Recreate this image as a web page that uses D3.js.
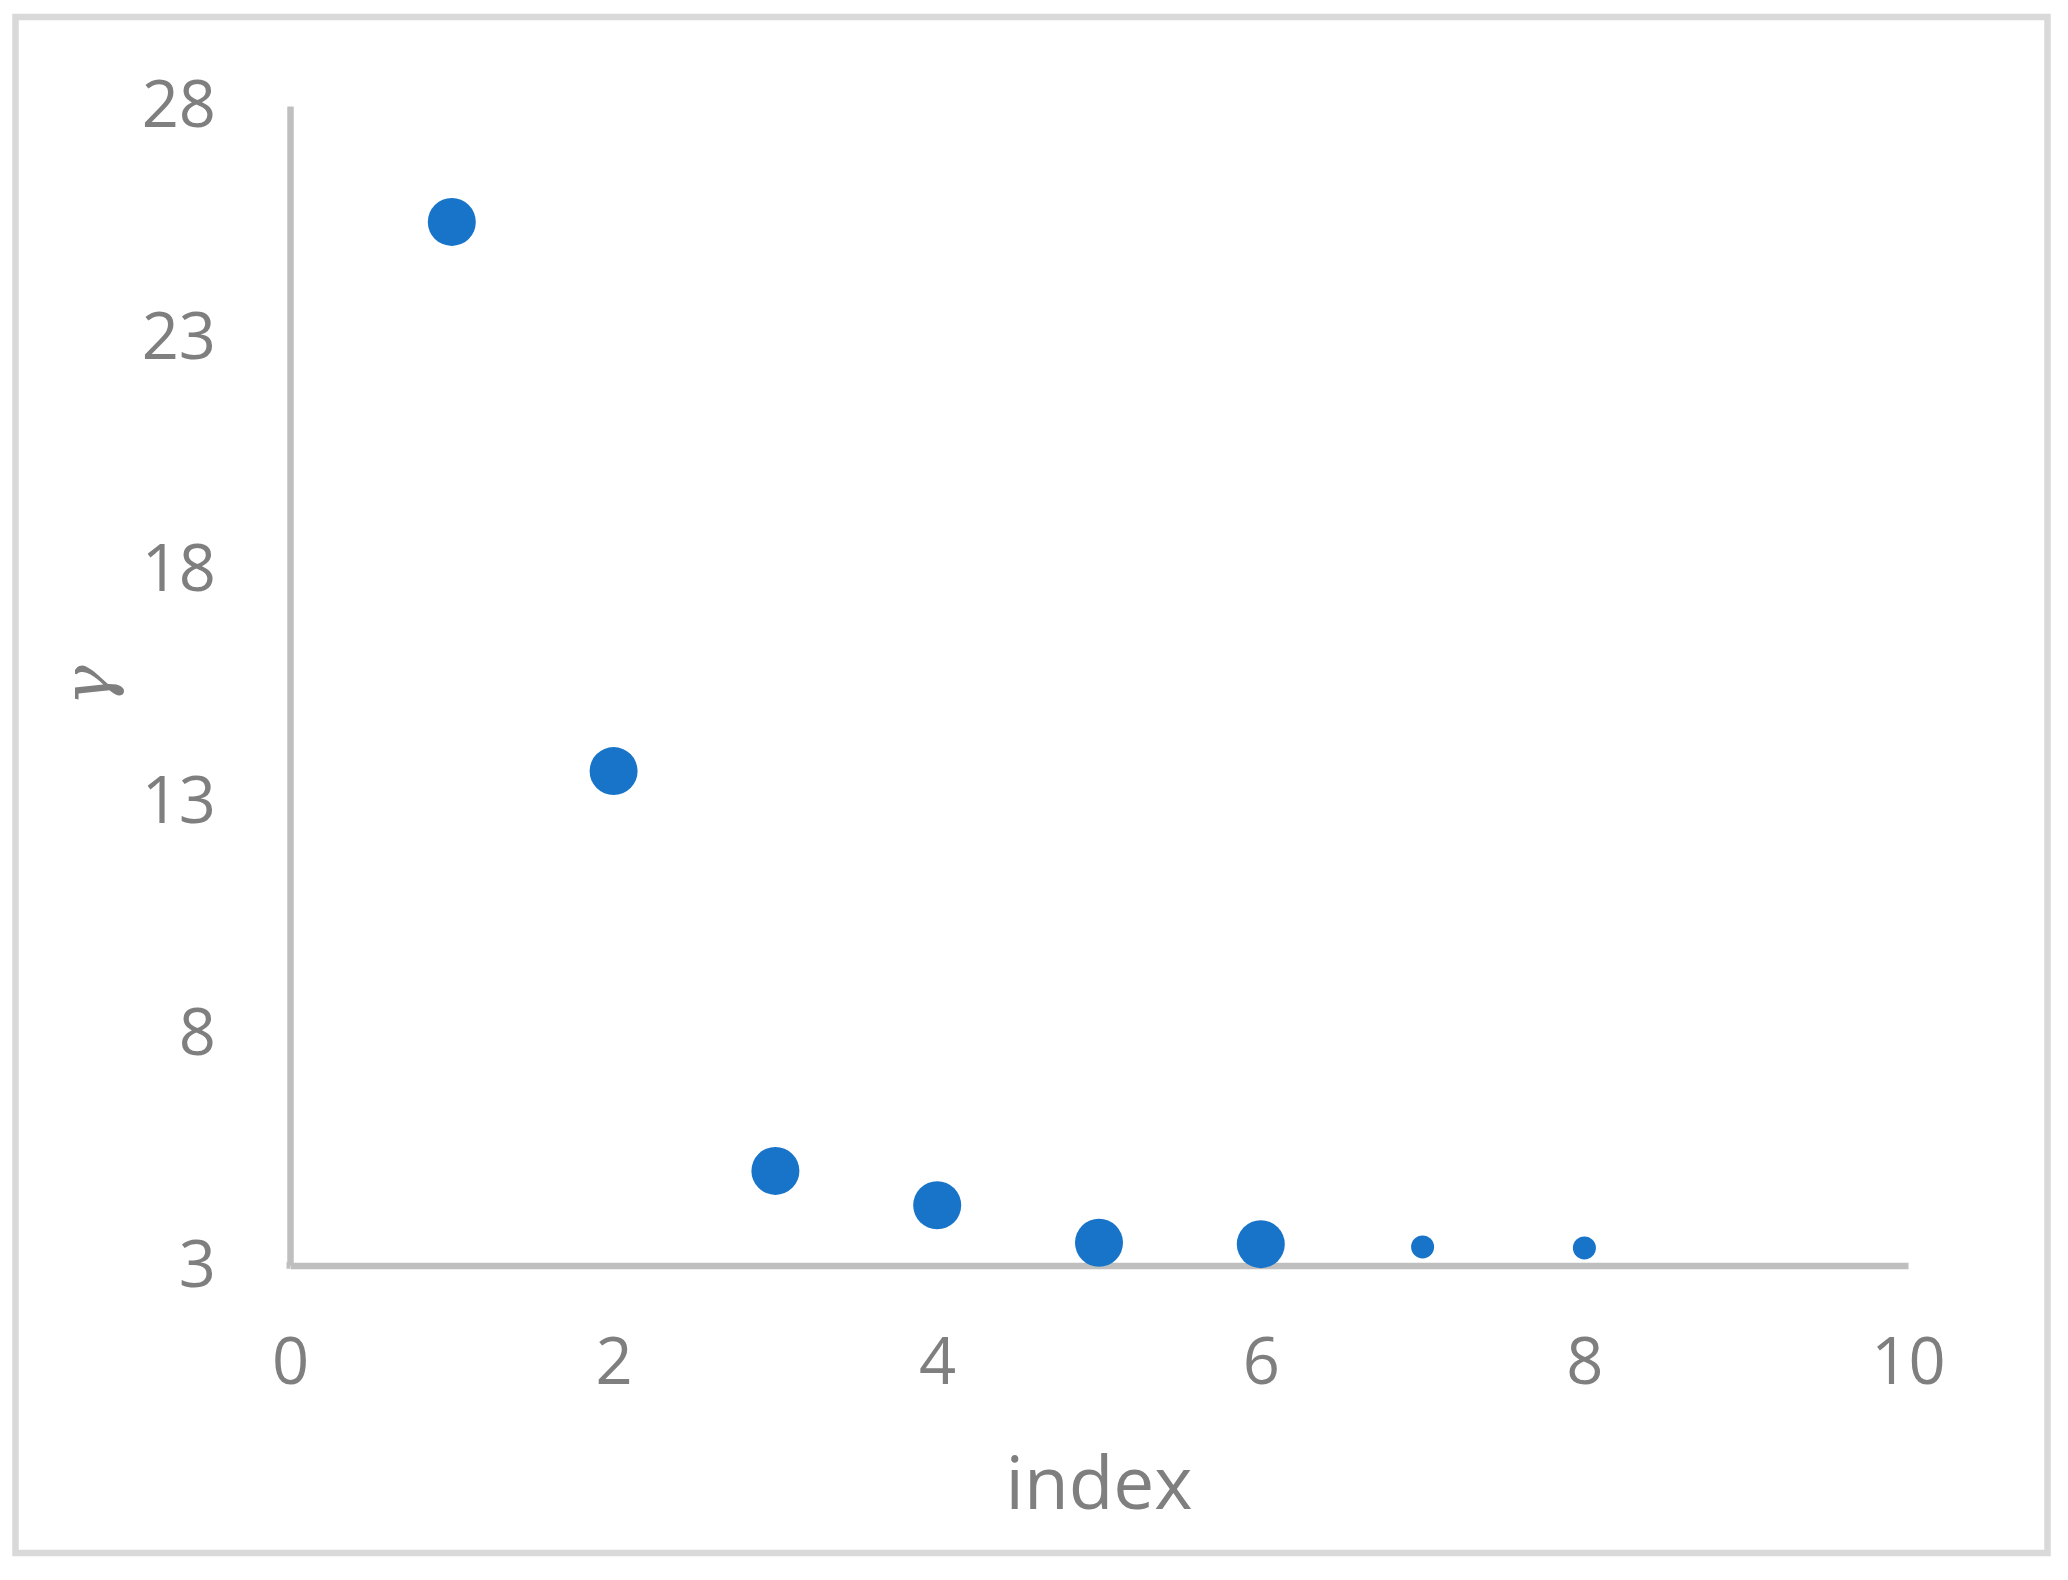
<!DOCTYPE html>
<html>
<head>
<meta charset="utf-8">
<script src="https://cdn.jsdelivr.net/npm/d3@7"></script>
<style>
  html, body { margin: 0; padding: 0; background: #ffffff; }
  svg { display: block; }
</style>
</head>
<body>
<svg id="chart" width="2068" height="1580"></svg>
<script>
// ---- data ----
const mainIndex = [1, 2, 3, 4, 5, 6];
const mainGamma = [25.5, 13.66, 5.04, 4.30, 3.49, 3.46];
const tailIndex = [7, 8];
const tailGamma = [3.40, 3.38];
const xTicks = [0, 2, 4, 6, 8, 10];
const yTicks = [3, 8, 13, 18, 23, 28];
const xTitle = "index";
const yTitle = "γ";

// ---- layout ----
const W = 2068, H = 1580;
const plot = { left: 290, right: 1908, top: 106, bottom: 1265.5 };
const textColor = "#7f7f7f";
const axisColor = "#bfbfbf";
const dotColor = "#1874c8";
const font = "'Open Sans', 'Noto Sans', sans-serif";

const svg = d3.select("#chart");

svg.append("rect")
  .attr("x", 0).attr("y", 0).attr("width", W).attr("height", H)
  .attr("fill", "#ffffff");

// outer chart border
svg.append("rect")
  .attr("x", 15.5).attr("y", 17)
  .attr("width", 2032).attr("height", 1536)
  .attr("fill", "none")
  .attr("stroke", "#d9d9d9")
  .attr("stroke-width", 6.5);

const x = d3.scaleLinear().domain([0, 10]).range([plot.left, plot.right]);
const y = d3.scaleLinear().domain([3, 28]).range([plot.bottom, plot.top]);

// y axis
const gy = svg.append("g")
  .attr("transform", `translate(${plot.left},0)`)
  .call(d3.axisLeft(y).tickValues(yTicks).tickSize(0).tickSizeOuter(0).tickPadding(74)
        .tickFormat(d3.format("d")));
gy.select(".domain").attr("stroke", axisColor).attr("stroke-width", 6.5);
gy.selectAll("text")
  .attr("fill", textColor)
  .attr("font-family", font)
  .attr("font-size", 65);

// x axis
const gx = svg.append("g")
  .attr("transform", `translate(0,${plot.bottom})`)
  .call(d3.axisBottom(x).tickValues(xTicks).tickSize(0).tickSizeOuter(0).tickPadding(72)
        .tickFormat(d3.format("d")));
gx.select(".domain").attr("stroke", axisColor).attr("stroke-width", 6.5);
gx.selectAll("text")
  .attr("fill", textColor)
  .attr("font-family", font)
  .attr("font-size", 65);

// extend x axis line to meet the y axis edge
svg.append("line")
  .attr("x1", plot.left - 3.5).attr("x2", plot.left)
  .attr("y1", plot.bottom).attr("y2", plot.bottom)
  .attr("stroke", axisColor).attr("stroke-width", 6.5);

// axis titles
svg.append("text")
  .attr("x", (plot.left + plot.right) / 2)
  .attr("y", 1509)
  .attr("text-anchor", "middle")
  .attr("fill", textColor)
  .attr("font-family", font)
  .attr("font-size", 73)
  .text(xTitle);

svg.append("text")
  .attr("transform", `translate(110,${(plot.top + plot.bottom) / 2}) rotate(-90)`)
  .attr("text-anchor", "middle")
  .attr("fill", textColor)
  .attr("font-family", "'DejaVu Serif', 'Liberation Serif', serif")
  .attr("font-style", "italic")
  .attr("font-size", 68)
  .text(yTitle);

// points
const mainData = mainIndex.map((d, i) => ({ x: d, y: mainGamma[i] }));
const tailData = tailIndex.map((d, i) => ({ x: d, y: tailGamma[i] }));

svg.append("g").selectAll("circle")
  .data(mainData).join("circle")
  .attr("cx", d => x(d.x)).attr("cy", d => y(d.y))
  .attr("r", 24)
  .attr("fill", dotColor);

svg.append("g").selectAll("circle")
  .data(tailData).join("circle")
  .attr("cx", d => x(d.x)).attr("cy", d => y(d.y))
  .attr("r", 11.5)
  .attr("fill", dotColor);
</script>
</body>
</html>
